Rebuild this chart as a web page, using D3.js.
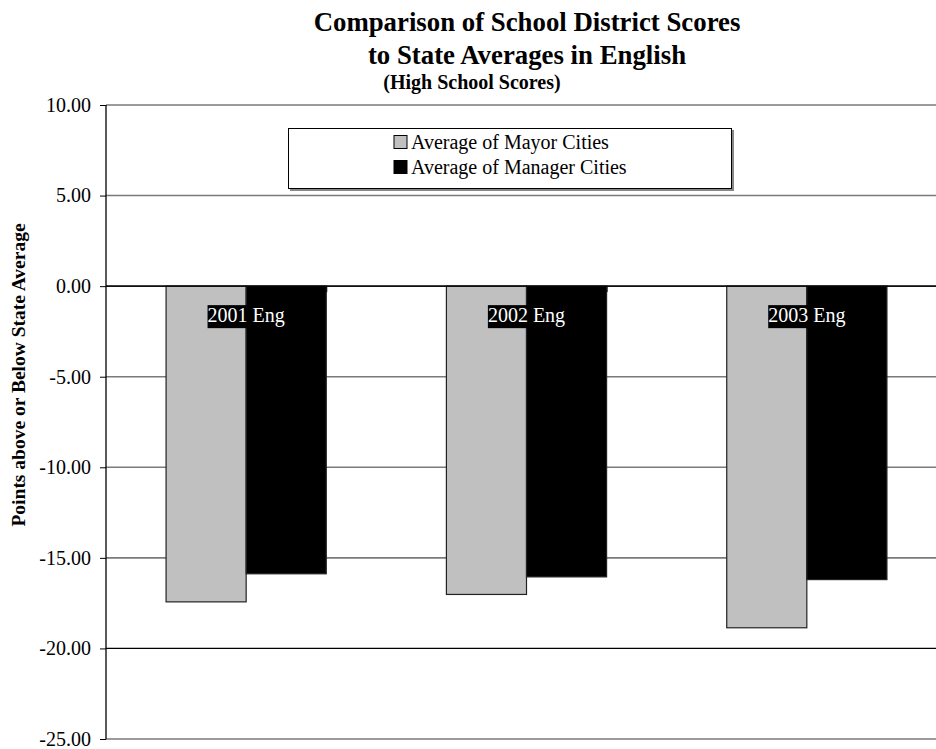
<!DOCTYPE html>
<html>
<head>
<meta charset="utf-8">
<script src="https://cdn.jsdelivr.net/npm/d3@7"></script>
<style>
  body { margin: 0; background: #fff; }
  svg { display: block; font-family: "Liberation Serif", "Times New Roman", serif; }
</style>
</head>
<body>
<svg width="936" height="749"></svg>
<script>
// data
var categories = ["2001 Eng", "2002 Eng", "2003 Eng"];
var seriesNames = ["Average of Mayor Cities", "Average of Manager Cities"];
var mayorVals = [-17.43, -17.02, -18.86];
var managerVals = [-15.88, -16.05, -16.20];
var yTicks = [10, 5, 0, -5, -10, -15, -20, -25];
var colors = ["#c0c0c0", "#000000"];

var svg = d3.select("svg");

var plotL = 106, plotR = 947, plotT = 105, plotB = 739;

var y = d3.scaleLinear().domain([-25, 10]).range([plotB, plotT]);
var x0 = d3.scaleBand().domain(categories).range([plotL, plotR])
        .paddingInner(1.5 / 3.5).paddingOuter(0.75 / 3.5);
var x1 = d3.scaleBand().domain(seriesNames).range([0, x0.bandwidth()]);

var rows = categories.map(function(c, i) {
    return { cat: c, vals: [mayorVals[i], managerVals[i]] };
});

// gridlines
svg.append("g").selectAll("line")
    .data(yTicks)
    .join("line")
    .attr("x1", plotL).attr("x2", 936)
    .attr("y1", function(d) { return y(d); })
    .attr("y2", function(d) { return y(d); })
    .attr("stroke", function(d) { return (d == 0 || d == -20) ? "#000" : "#7a7a7a"; })
    .attr("stroke-width", function(d) { return (d == 0 || d == -20) ? 1.3 : 1.6; });

// bars
var groups = svg.append("g").selectAll("g")
    .data(rows)
    .join("g")
    .attr("transform", function(d) { return "translate(" + x0(d.cat) + ",0)"; });

groups.selectAll("rect")
    .data(function(d) { return d.vals.map(function(v, j) { return { name: seriesNames[j], v: v, j: j }; }); })
    .join("rect")
    .attr("x", function(d) { return x1(d.name); })
    .attr("width", x1.bandwidth())
    .attr("y", y(0))
    .attr("height", function(d) { return y(d.v) - y(0); })
    .attr("fill", function(d) { return colors[d.j]; })
    .attr("stroke", "#222")
    .attr("stroke-width", 1.2);

// zero line on top
svg.append("line")
    .attr("x1", plotL).attr("x2", 936)
    .attr("y1", y(0)).attr("y2", y(0))
    .attr("stroke", "#000").attr("stroke-width", 1.3);

// category tick marks on the zero line (boundaries between categories)
svg.append("g").selectAll("line")
    .data(categories.slice(1))
    .join("line")
    .attr("x1", function(d) { return x0(d) - x0.step() * x0.paddingOuter() * 2 + 0.5; })
    .attr("x2", function(d) { return x0(d) - x0.step() * x0.paddingOuter() * 2 + 0.5; })
    .attr("y1", y(0)).attr("y2", y(0) + 6)
    .attr("stroke", "#000");

// category labels (white on black box)
var labs = svg.append("g").selectAll("g")
    .data(categories)
    .join("g");
labs.append("rect").attr("fill", "#000");
labs.append("text")
    .attr("x", function(d) { return x0(d) + x0.bandwidth() / 2; })
    .attr("y", y(0) + 36)
    .attr("text-anchor", "middle")
    .attr("font-size", 20)
    .attr("fill", "#fff")
    .text(function(d) { return d; });
labs.each(function() {
    var g = d3.select(this);
    var b = g.select("text").node().getBBox();
    g.select("rect").attr("x", b.x).attr("y", y(0) + 19)
        .attr("width", b.width).attr("height", 23);
});

// y axis
var yAxis = d3.axisLeft(y).tickValues(yTicks).tickSize(6)
    .tickFormat(function(d) { return d.toFixed(2); });
var ya = svg.append("g")
    .attr("transform", "translate(" + plotL + ",0)")
    .call(yAxis);
ya.select(".domain").attr("stroke", "#000").attr("stroke-width", 1.3)
    .attr("d", "M0," + plotT + "V" + plotB);
ya.selectAll(".tick line").attr("stroke", "#000");
ya.selectAll(".tick text")
    .attr("font-family", "Liberation Serif")
    .attr("font-size", 20).attr("fill", "#000")
    .attr("x", -15);

// y axis title
svg.append("text")
    .attr("transform", "translate(25,375) rotate(-90)")
    .attr("text-anchor", "middle")
    .attr("font-size", 19.5).attr("font-weight", "bold")
    .text("Points above or Below State Average");

// titles
svg.append("text").attr("x", 527).attr("y", 31)
    .attr("text-anchor", "middle").attr("font-size", 26.8).attr("font-weight", "bold")
    .text("Comparison of School District Scores");
svg.append("text").attr("x", 527).attr("y", 64)
    .attr("text-anchor", "middle").attr("font-size", 26.8).attr("font-weight", "bold")
    .text("to State Averages in English");
svg.append("text").attr("x", 472).attr("y", 89)
    .attr("text-anchor", "middle").attr("font-size", 20).attr("font-weight", "bold")
    .text("(High School Scores)");

// legend
var lg = svg.append("g");
lg.append("rect").attr("x", 290).attr("y", 130).attr("width", 444).attr("height", 61)
    .attr("fill", "#888");
lg.append("rect").attr("x", 288.5).attr("y", 128.5).attr("width", 443).attr("height", 60)
    .attr("fill", "#fff").attr("stroke", "#000").attr("stroke-width", 1);
var items = lg.selectAll("g.item")
    .data(seriesNames)
    .join("g")
    .attr("class", "item")
    .attr("transform", function(d, i) { return "translate(394," + (142 + i * 25) + ")"; });
items.append("rect")
    .attr("x", 0).attr("y", -6.5).attr("width", 13).attr("height", 13)
    .attr("fill", function(d, i) { return colors[i]; })
    .attr("stroke", "#000").attr("stroke-width", 1);
items.append("text")
    .attr("x", 17).attr("y", 7)
    .attr("font-size", 20)
    .text(function(d) { return d; });
</script>
</body>
</html>
